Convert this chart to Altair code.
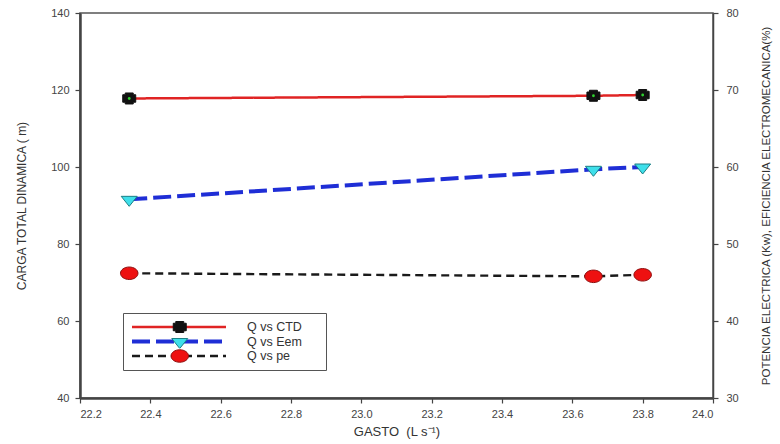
import altair as alt
import pandas as pd

# Measured operating points of the pump
gasto = [22.34, 23.66, 23.80]          # flow, L/s
ctd = [117.8, 118.5, 118.7]            # total dynamic head, m (left axis)
eem = [55.8, 59.7, 60.0]               # electromechanical efficiency, % (right axis)
pe = [46.2, 45.8, 46.0]                # electric power, kW (right axis)

series = ["Q vs CTD", "Q vs Eem", "Q vs pe"]
markers = ["CTD", "Eem", "pe"]
x_ticks = [22.2, 22.4, 22.6, 22.8, 23.0, 23.2, 23.4, 23.6, 23.8, 24.0]
y_left_ticks = [40, 60, 80, 100, 120, 140]
y_right_ticks = [30, 40, 50, 60, 70, 80]

rows = []
for name, mk, vals in zip(series, markers, [ctd, eem, pe]):
    for g, v in zip(gasto, vals):
        rows.append({"gasto": g, "valor": v, "serie": name, "marcador": mk})
df = pd.DataFrame(rows)

FONT = "Liberation Sans"

# Marker outlines (custom symbol paths, scaled by the mark size)
ctd_path = ("M-0.8,-1.1 L0.8,-1.1 L0.8,-0.75 L1.3,-0.75 L1.3,0.75 L0.8,0.75 "
            "L0.8,1.1 L-0.8,1.1 L-0.8,0.75 L-1.3,0.75 L-1.3,-0.75 L-0.8,-0.75 Z")
tri_path = "M-1.6,-0.6 L1.6,-0.6 L0,1.4 Z"
ell_path = "M-1.75,0 A1.75,1.25 0 1,1 1.75,0 A1.75,1.25 0 1,1 -1.75,0 Z"

# Line samples with labels (white box, drawn first)
line_legend = alt.Legend(
    orient="none", legendX=43, legendY=300, title=None, direction="vertical",
    symbolType="stroke", symbolSize=8836, clipHeight=14, rowPadding=0.5,
    padding=7, labelOffset=19, labelFont=FONT, labelFontSize=12.5,
    labelColor="#333333", fillColor="white",
)
# Markers drawn over the middle of each line sample; this one carries the frame
marker_legend = alt.Legend(
    orient="none", legendX=43, legendY=300, title=None, direction="vertical",
    symbolSize=100, symbolStrokeWidth=1, symbolOffset=43.5, clipHeight=14,
    rowPadding=0.5, padding=7, labelFontSize=12.5,
    labelFont=FONT, labelOffset=133, labelExpr="''",
    strokeColor="#555555",
)

x_enc = alt.X(
    "gasto:Q",
    scale=alt.Scale(domain=[22.2, 24.0], nice=False, zero=False),
    axis=alt.Axis(values=x_ticks, format=".1f", title="GASTO\u00a0\u00a0(L s\u207b\u00b9)",
                  domainWidth=2.5, labelPadding=5, titlePadding=6, titleFontSize=13),
)

color_enc = alt.Color("serie:N", scale=alt.Scale(domain=series, range=["#E02424", "#1F2ED6", "#1A1A1A"]),
                      legend=line_legend)
dash_enc = alt.StrokeDash("serie:N", scale=alt.Scale(domain=series, range=[[1, 0], [18, 6], [8, 5]]),
                          legend=line_legend)
width_enc = alt.StrokeWidth("serie:N",
                            scale=alt.Scale(type="ordinal", domain=series, range=[2.5, 4, 2.4]),
                            legend=line_legend)

fill_enc = alt.Fill("marcador:N", scale=alt.Scale(domain=markers, range=["#111111", "#3EDFEA", "#EE1111"]),
                    legend=marker_legend)
stroke_enc = alt.Stroke("marcador:N", scale=alt.Scale(domain=markers, range=["#111111", "#1B7F86", "#8E1010"]),
                        legend=marker_legend)
shape_enc = alt.Shape("marcador:N", scale=alt.Scale(domain=markers, range=[ctd_path, tri_path, ell_path]),
                      legend=marker_legend)

# Left axis: total dynamic head
y_left = alt.Y("valor:Q", scale=alt.Scale(domain=[40, 140], nice=False, zero=False),
               axis=alt.Axis(orient="left", values=y_left_ticks, title="CARGA TOTAL DINAMICA ( m)",
                             domainWidth=2.5, labelPadding=6, titlePadding=22))
base_left = alt.Chart(df).transform_filter(alt.datum.serie == "Q vs CTD")
left = alt.layer(
    base_left.mark_line().encode(x=x_enc, y=y_left, color=color_enc, strokeDash=dash_enc,
                                 strokeWidth=width_enc),
    base_left.mark_point(filled=True, opacity=1, size=100, strokeWidth=1).encode(
        x=x_enc, y=y_left, fill=fill_enc, stroke=stroke_enc, shape=shape_enc),
    base_left.mark_circle(size=8, opacity=1, color="#2ED12E").encode(x=x_enc, y=y_left),
)

# Right axis: electric power and efficiency
y_right = alt.Y("valor:Q", scale=alt.Scale(domain=[30, 80], nice=False, zero=False),
                axis=alt.Axis(orient="right", values=y_right_ticks,
                              title="POTENCIA ELECTRICA (Kw), EFICIENCIA ELECTROMECANICA(%)",
                              titleAngle=270, titleFontSize=11.5,
                              domainWidth=1.5, labelPadding=8, titlePadding=33))
base_right = alt.Chart(df).transform_filter(alt.datum.serie != "Q vs CTD")
right = alt.layer(
    base_right.mark_line().encode(x=x_enc, y=y_right, color=color_enc, strokeDash=dash_enc,
                                  strokeWidth=width_enc),
    base_right.mark_point(filled=True, opacity=1, size=100, strokeWidth=1).encode(
        x=x_enc, y=y_right, fill=fill_enc, stroke=stroke_enc, shape=shape_enc),
)

chart = (
    alt.layer(left, right)
    .resolve_scale(y="independent")
    .properties(
        width=633, height=385,
        autosize=alt.AutoSizeParams(type="none"),
        padding={"left": 80, "top": 13, "right": 67, "bottom": 46},
        background="white",
    )
    .configure_view(stroke="#555555", strokeWidth=1.5, fill="white")
    .configure_axis(
        grid=False, domainColor="#444444", tickColor="#444444", tickSize=5, tickWidth=1.2,
        labelFont=FONT, labelFontSize=11, labelColor="#444444",
        titleFont=FONT, titleFontSize=12, titleFontWeight="normal", titleColor="#333333",
    )
)

chart.save("out.html", embed_options={"renderer": "svg", "actions": False})
